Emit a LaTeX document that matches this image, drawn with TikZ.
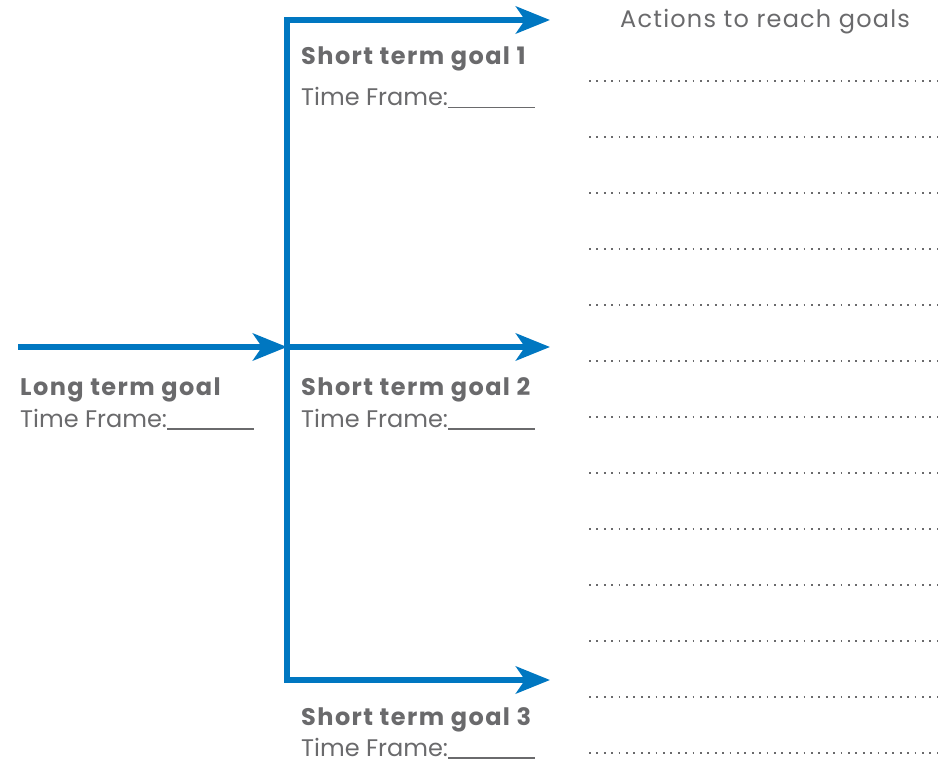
\documentclass[tikz,border=0pt]{standalone}
\usepackage{fontspec}
\setmainfont{Poppins}
\newfontfamily\titlefont[LetterSpace=6]{Poppins}
\newfontfamily\headfont[LetterSpace=5]{Poppins}
\usetikzlibrary{arrows.meta}
\definecolor{flowblue}{HTML}{0077C1}
\definecolor{txtgray}{HTML}{6A6A6C}
\newcommand{\blankline}{\rule[-2.5pt]{87pt}{1.3pt}}
\tikzset{
  flowline/.style={draw=flowblue, line width=6.5pt, line join=miter},
  tipend/.style={-{Stealth[length=34pt,width=27pt,inset=9pt]}},
  goaltitle/.style={anchor=base west, inner sep=0pt, text=txtgray, font=\titlefont\fontsize{24}{28}\selectfont\bfseries},
  goaltime/.style={anchor=base west, inner sep=0pt, text=txtgray, font=\fontsize{24}{28}\selectfont},
  heading/.style={anchor=base west, inner sep=0pt, text=txtgray, font=\headfont\fontsize{24}{28}\selectfont},
  actionline/.style={draw=txtgray, line width=1.8pt, dash pattern=on 1.8pt off 5.6pt}
}
\begin{document}
\begin{tikzpicture}[x=1pt,y=-1pt]
\useasboundingbox (0,0) rectangle (951,762);
% coordinates of the flow
\coordinate (lstart) at (18,347);
\coordinate (junc) at (287,347);
\coordinate (c1) at (287,20);
\coordinate (c3) at (287,680);
\coordinate (t1) at (550,20);
\coordinate (t2) at (550,347);
\coordinate (t3) at (550,680);
\draw[flowline, tipend] (lstart) -- (junc);
\draw[flowline, tipend] (c3) -- (c1) -- (t1);
\draw[flowline, tipend] (junc) -- (t2);
\draw[flowline, tipend] (c1) -- (c3) -- (t3);
% texts
\node[heading] (head) at (620,28) {Actions to reach goals};
\node[goaltitle] (g1) at (301,65) {Short term goal 1};
\node[goaltime] (g1t) at (301,106) {Time Frame:\blankline};
\node[goaltitle] (g2) at (301,395) {Short term goal 2};
\node[goaltime] (g2t) at (301,427) {Time Frame:\blankline};
\node[goaltitle] (g3) at (301,725) {Short term goal 3};
\node[goaltime] (g3t) at (301,756) {Time Frame:\blankline};
\node[goaltitle] (lg) at (20,395) {Long term goal};
\node[goaltime] (lgt) at (20,427) {Time Frame:\blankline};
% action lines
\foreach \i in {0,...,12} {
  \coordinate (as\i) at (589,81+56*\i);
  \coordinate (ae\i) at (938,81+56*\i);
  \draw[actionline] (as\i) -- (ae\i);
}
\end{tikzpicture}
\end{document}
